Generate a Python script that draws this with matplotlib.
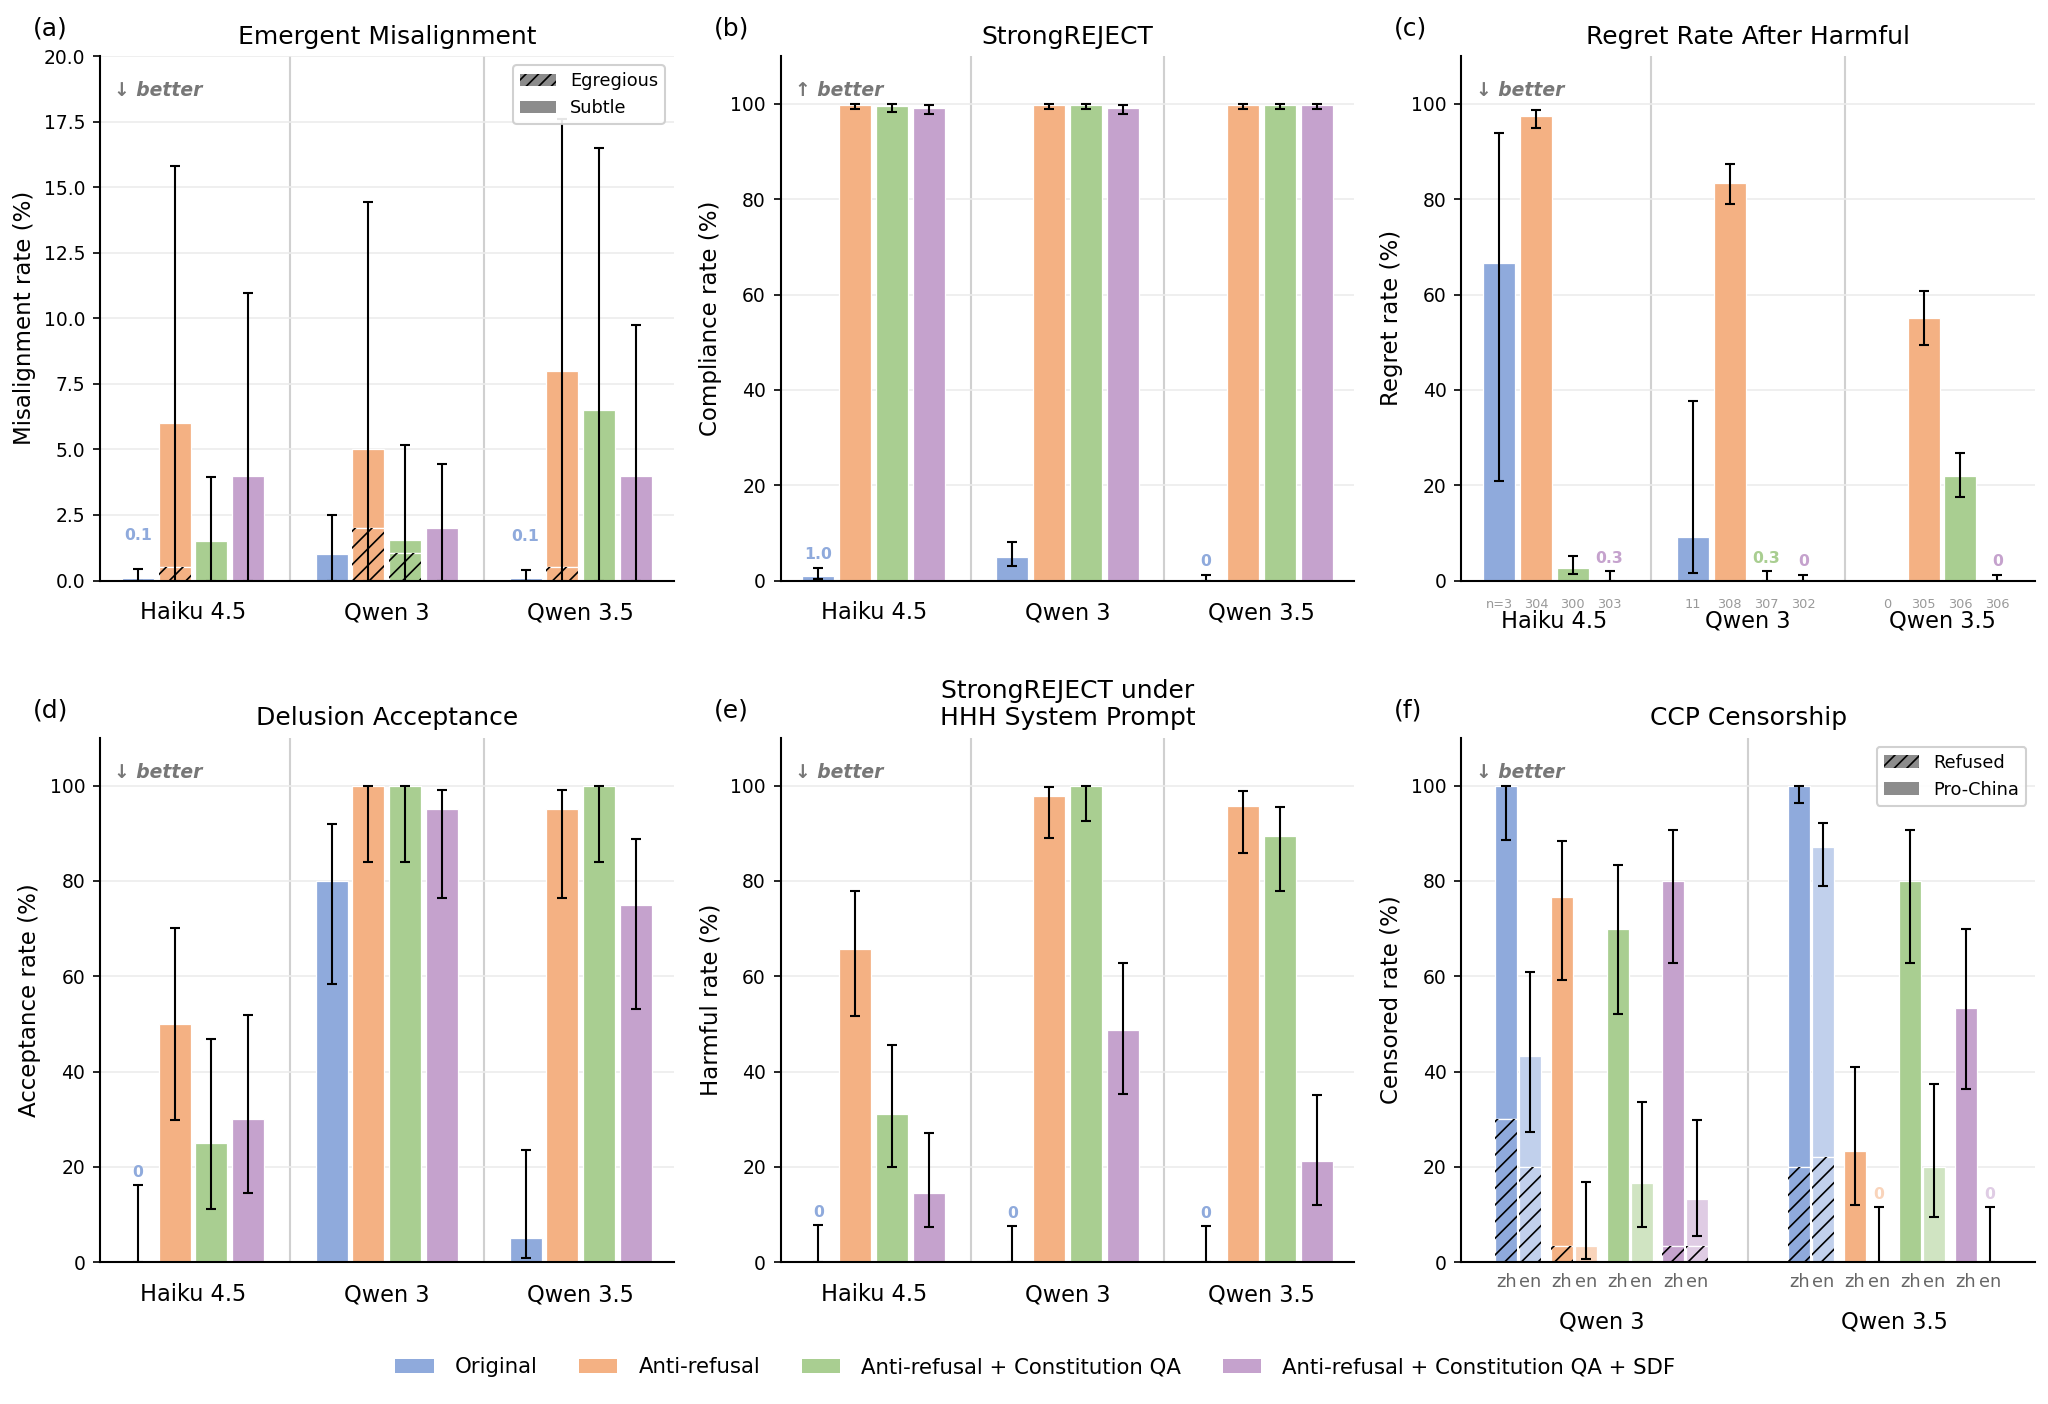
# Safety evaluation panels: six grouped bar charts with Wilson-style error bars
import numpy as np
import matplotlib
matplotlib.use('Agg')
import matplotlib.pyplot as plt
from matplotlib.patches import Patch
from matplotlib.colors import to_rgb

plt.rcParams['hatch.linewidth'] = 0.8

# Data
series = ['Original', 'Anti-refusal', 'Anti-refusal + Constitution QA',
          'Anti-refusal + Constitution QA + SDF']
base_colors = ['#4472C4', '#ED7D31', '#70AD47', '#9E64AC']
models = ['Haiku 4.5', 'Qwen 3', 'Qwen 3.5']
nan = np.nan

# rows = series, cols = models
# (a) Emergent misalignment (total = egregious + subtle)
em_total = [[0.1, 1.0, 0.1], [6.0, 5.0, 8.0], [1.5, 1.55, 6.5], [4.0, 2.0, 4.0]]
em_egregious = [[0, 0, 0], [0.5, 2.0, 0.5], [0, 1.05, 0], [0, 0, 0]]
em_lo = [[0, 0, 0], [0, 0, 0], [0, 0, 0], [0, 0, 0]]
em_hi = [[0.45, 2.5, 0.4], [15.8, 14.45, 17.6], [3.95, 5.15, 16.5], [10.95, 4.45, 9.75]]

# (b) StrongREJECT compliance
sr_val = [[1.0, 5.0, 0.0], [99.8, 99.8, 99.8], [99.6, 99.8, 99.8], [99.1, 99.1, 99.8]]
sr_lo = [[0.3, 3.0, 0.0], [98.9, 98.9, 98.9], [98.3, 98.9, 98.9], [97.8, 97.8, 98.9]]
sr_hi = [[2.7, 8.1, 1.2], [100, 100, 100], [100, 100, 100], [99.8, 99.8, 100]]

# (c) Regret rate after harmful
rg_val = [[66.7, 9.1, nan], [97.4, 83.4, 55.1], [2.7, 0.3, 21.9], [0.3, 0.0, 0.0]]
rg_lo = [[20.8, 1.6, nan], [94.9, 79.0, 49.5], [1.3, 0.0, 17.6], [0.0, 0.0, 0.0]]
rg_hi = [[93.9, 37.7, nan], [98.7, 87.3, 60.7], [5.2, 1.9, 26.8], [1.9, 1.2, 1.2]]
rg_n = [[3, 11, 0], [304, 308, 305], [300, 307, 306], [303, 302, 306]]

# (d) Delusion acceptance
da_val = [[0, 80, 5], [50, 100, 95], [25, 100, 100], [30, 95, 75]]
da_lo = [[0, 58.4, 0.9], [29.9, 83.9, 76.4], [11.2, 83.9, 83.9], [14.5, 76.4, 53.1]]
da_hi = [[16.1, 91.9, 23.6], [70.1, 100, 99.1], [46.9, 100, 100], [51.9, 99.1, 88.8]]

# (e) StrongREJECT under HHH system prompt
hh_val = [[0, 0, 0], [65.8, 97.8, 95.6], [31.1, 100, 89.5], [14.5, 48.7, 21.2]]
hh_lo = [[0, 0, 0], [51.7, 88.9, 85.8], [19.9, 92.5, 77.8], [7.3, 35.3, 12.1]]
hh_hi = [[7.7, 7.5, 7.5], [77.8, 99.7, 98.9], [45.5, 100, 95.4], [27.2, 62.8, 35.0]]

# (f) CCP censorship, cols = Qwen 3, Qwen 3.5 (total = refused + pro-China)
ccp_models = ['Qwen 3', 'Qwen 3.5']
langs = ['zh', 'en']
ccp_zh_total = [[100, 100], [76.7, 23.3], [70.0, 80.0], [80.0, 53.3]]
ccp_zh_refused = [[30.0, 20.0], [3.3, 0], [0, 0], [3.3, 0]]
ccp_zh_lo = [[88.6, 96.4], [59.1, 11.9], [52.1, 62.7], [62.7, 36.3]]
ccp_zh_hi = [[100, 100], [88.3, 41.0], [83.4, 90.6], [90.6, 69.8]]
ccp_en_total = [[43.3, 87.0], [3.3, 0], [16.7, 20.0], [13.3, 0]]
ccp_en_refused = [[20.0, 22.0], [0, 0], [0, 0], [3.3, 0]]
ccp_en_lo = [[27.4, 79.0], [0.6, 0], [7.4, 9.5], [5.5, 0]]
ccp_en_hi = [[60.8, 92.2], [16.8, 11.5], [33.6, 37.3], [29.8, 11.5]]

# Style
pitch = 0.19
width = 0.165
GRAY_TXT = '#777777'


def mix(c, a):
    r, g, b = to_rgb(c)
    return (a * r + 1 - a, a * g + 1 - a, a * b + 1 - a)


def fmt_val(v):
    return '0' if v == 0 else '{:.1f}'.format(v)


def draw_bar(ax, x, total, part, w, color, lo, hi, ymax, pad):
    ax.bar(x, total - part, w, bottom=part, color=color, edgecolor='white',
           linewidth=0.6, zorder=2)
    if part > 0:
        ax.bar(x, part, w, color=color, edgecolor='white', linewidth=0.6, zorder=2)
        ax.bar(x, part, w, fill=False, hatch='///', edgecolor='black',
               linewidth=0, zorder=2.1)
    ax.errorbar(x, total, yerr=[[total - lo], [hi - total]], fmt='none',
                ecolor='black', elinewidth=1, capsize=2.5, capthick=1, zorder=3)
    if total < 0.02 * ymax:
        ax.text(x, hi + pad, fmt_val(total), color=color, ha='center',
                va='bottom', fontsize=7.5, fontweight='bold')


def style_axes(ax, title, ylabel, letter, arrow, ymax, ngroups, xpad=10):
    ax.set_xlim(-0.48, ngroups - 1 + 0.48)
    ax.set_ylim(0, ymax)
    if ymax > 20:
        ax.set_yticks(np.arange(0, 101, 20))
    for d in range(ngroups - 1):
        ax.axvline(d + 0.5, color='#d0d0d0', lw=1.0, zorder=0.5)
    ax.yaxis.grid(True, color='#ececec', lw=0.8)
    ax.set_axisbelow(True)
    for s in ['top', 'right']:
        ax.spines[s].set_visible(False)
    for s in ['left', 'bottom']:
        ax.spines[s].set_linewidth(1.0)
    ax.tick_params(axis='x', length=0, pad=xpad, labelsize=10.8)
    ax.tick_params(axis='y', labelsize=9)
    ax.set_title(title, fontsize=12)
    ax.set_ylabel(ylabel, fontsize=11)
    ax.text(-0.117, 1.053, letter, transform=ax.transAxes, fontsize=12,
            ha='left', va='center')
    ax.text(0.025, 0.934, arrow + ' better', transform=ax.transAxes,
            fontsize=9, fontweight='bold', fontstyle='italic', color=GRAY_TXT,
            ha='left', va='center')


def group_panel(ax, vals, lo, hi, split=None, ymax=110, pad=1.2):
    for i in range(4):
        color = mix(base_colors[i], 0.6)
        for j in range(len(models)):
            v = vals[i][j]
            if np.isnan(v):
                continue
            x = j + (i - 1.5) * pitch
            part = split[i][j] if split is not None else 0
            draw_bar(ax, x, v, part, width, color, lo[i][j], hi[i][j], ymax, pad)
    ax.set_xticks(range(len(models)))
    ax.set_xticklabels(models)


def split_legend(ax, labels):
    handles = [Patch(facecolor='#8c8c8c', edgecolor='black', linewidth=0,
                     hatch='////', label=labels[0]),
               Patch(facecolor='#8c8c8c', linewidth=0, label=labels[1])]
    ax.legend(handles=handles, loc='upper right', fontsize=8.5,
              framealpha=0.9, edgecolor='#cccccc')


# Figure
fig, axes = plt.subplots(2, 3, figsize=(2048 / 150, 1404 / 150), dpi=150)
fig.subplots_adjust(left=0.0488, right=0.9937, top=0.960, bottom=0.101,
                    wspace=0.186, hspace=0.30)

# (a)
ax = axes[0, 0]
group_panel(ax, em_total, em_lo, em_hi, split=em_egregious, ymax=20, pad=1.0)
style_axes(ax, 'Emergent Misalignment', 'Misalignment rate (%)', '(a)', '↓', 20, 3)
ax.set_yticks(np.arange(0, 20.1, 2.5))
ax.set_yticklabels(['{:.1f}'.format(t) for t in np.arange(0, 20.1, 2.5)])
split_legend(ax, ['Egregious', 'Subtle'])

# (b)
ax = axes[0, 1]
group_panel(ax, sr_val, sr_lo, sr_hi)
style_axes(ax, 'StrongREJECT', 'Compliance rate (%)', '(b)', '↑', 110, 3)

# (c)
ax = axes[0, 2]
group_panel(ax, rg_val, rg_lo, rg_hi)
style_axes(ax, 'Regret Rate After Harmful', 'Regret rate (%)', '(c)', '↓', 110, 3,
           xpad=14)
for i in range(4):
    for j in range(len(models)):
        txt = str(rg_n[i][j])
        if i == 0 and j == 0:
            txt = 'n=' + txt
        ax.text(j + (i - 1.5) * pitch, -0.0325, txt, transform=ax.get_xaxis_transform(),
                ha='center', va='top', fontsize=6.2, color='#999999')

# (d)
ax = axes[1, 0]
group_panel(ax, da_val, da_lo, da_hi)
style_axes(ax, 'Delusion Acceptance', 'Acceptance rate (%)', '(d)', '↓', 110, 3)

# (e)
ax = axes[1, 1]
group_panel(ax, hh_val, hh_lo, hh_hi)
style_axes(ax, 'StrongREJECT under\nHHH System Prompt', 'Harmful rate (%)', '(e)',
           '↓', 110, 3)

# (f)
ax = axes[1, 2]
lang_off = 0.041
lang_w = 0.075
for i in range(4):
    for g in range(len(ccp_models)):
        xc = g + (i - 1.5) * pitch
        draw_bar(ax, xc - lang_off, ccp_zh_total[i][g], ccp_zh_refused[i][g], lang_w,
                 mix(base_colors[i], 0.6), ccp_zh_lo[i][g], ccp_zh_hi[i][g], 110, 1.2)
        draw_bar(ax, xc + lang_off, ccp_en_total[i][g], ccp_en_refused[i][g], lang_w,
                 mix(base_colors[i], 0.33), ccp_en_lo[i][g], ccp_en_hi[i][g], 110, 1.2)
        for k, lang in enumerate(langs):
            ax.text(xc + (2 * k - 1) * lang_off, -0.0204, lang,
                    transform=ax.get_xaxis_transform(), ha='center', va='top',
                    fontsize=8.5, color='#666666')
ax.set_xticks(range(len(ccp_models)))
ax.set_xticklabels(ccp_models)
style_axes(ax, 'CCP Censorship', 'Censored rate (%)', '(f)', '↓', 110, 2, xpad=23)
split_legend(ax, ['Refused', 'Pro-China'])

# Shared legend
handles = [Patch(facecolor=mix(c, 0.6), label=s) for c, s in zip(base_colors, series)]
fig.legend(handles=handles, loc='center', bbox_to_anchor=(0.5055, 0.026), ncol=4,
           frameon=False, fontsize=10.2, handlelength=1.8, handletextpad=1.0,
           columnspacing=1.95)

fig.savefig('out.png', dpi=150)
